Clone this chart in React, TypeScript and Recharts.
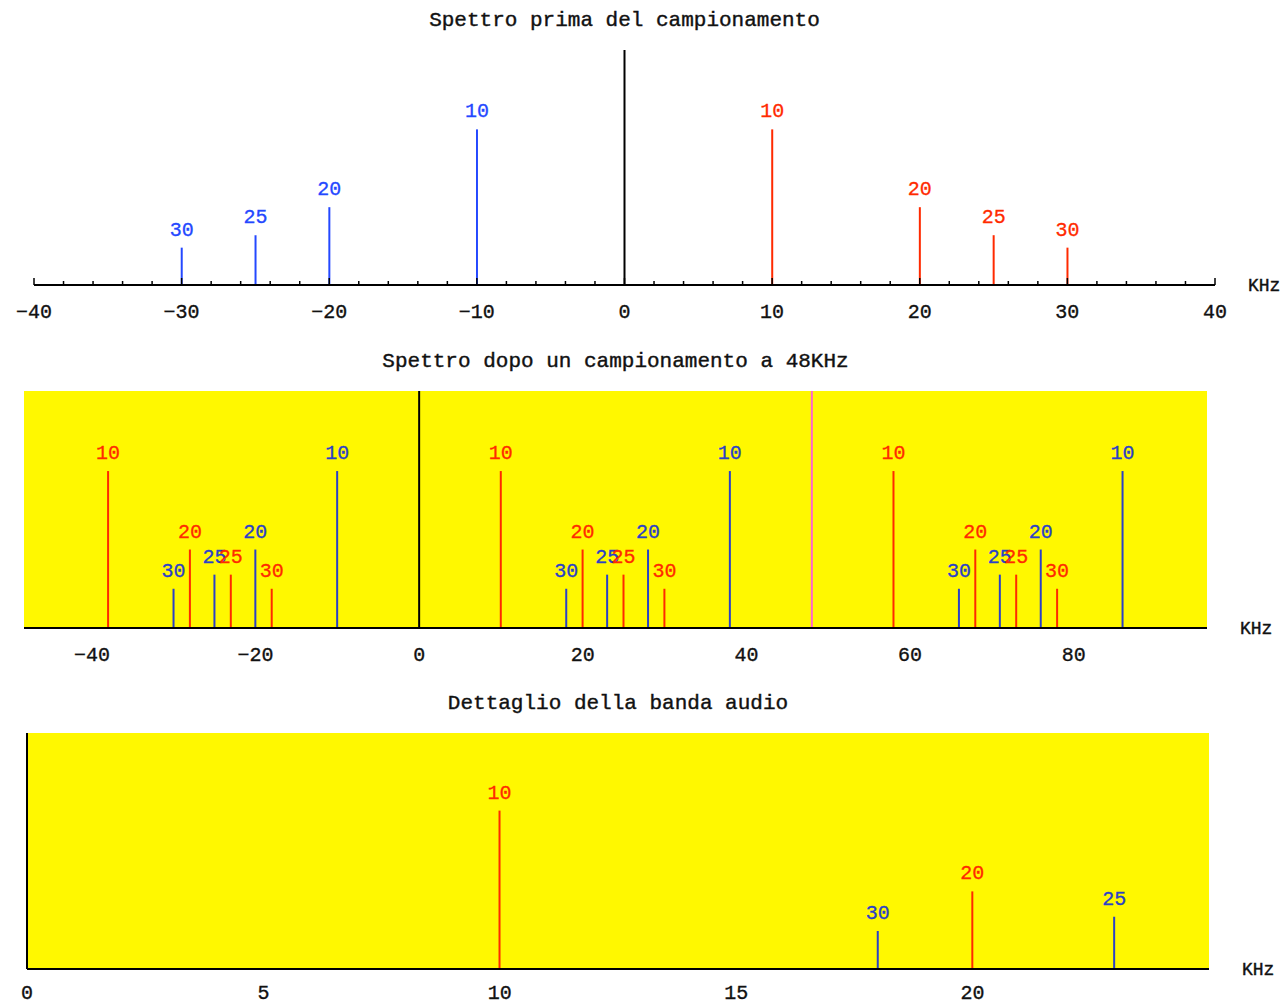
import React from 'react'
import {
  ComposedChart,
  Bar,
  Cell,
  XAxis,
  YAxis,
  LabelList,
  ReferenceLine,
  CartesianGrid,
} from 'recharts'

const FONT = '"Liberation Mono", "Courier New", monospace'
const RED = '#ff2a00'
const BLUE_BRIGHT = '#2448ff'
const BLUE_DARK = '#2a40c8'
const YELLOW = '#fff800'
const MAGENTA = '#ff66cc'

// Spettro prima del campionamento
const beforeFreq = [-30, -25, -20, -10, 10, 20, 25, 30]
const beforeAmp = [0.24, 0.32, 0.5, 1, 1, 0.5, 0.32, 0.24]
const beforeTag = ['30', '25', '20', '10', '10', '20', '25', '30']
const beforeSide = ['b', 'b', 'b', 'b', 'r', 'r', 'r', 'r']
const beforeTicks = [
  -40, -38, -36, -34, -32, -30, -28, -26, -24, -22, -20, -18, -16, -14, -12, -10, -8, -6, -4, -2,
  0, 2, 4, 6, 8, 10, 12, 14, 16, 18, 20, 22, 24, 26, 28, 30, 32, 34, 36, 38, 40,
]

// Spettro dopo un campionamento a 48KHz
const afterFreq = [
  -38, -30, -28, -25, -23, -20, -18, -10,
  10, 18, 20, 23, 25, 28, 30, 38,
  58, 66, 68, 71, 73, 76, 78, 86,
]
const afterAmp = [
  1, 0.25, 0.5, 0.34, 0.34, 0.5, 0.25, 1,
  1, 0.25, 0.5, 0.34, 0.34, 0.5, 0.25, 1,
  1, 0.25, 0.5, 0.34, 0.34, 0.5, 0.25, 1,
]
const afterTag = [
  '10', '30', '20', '25', '25', '20', '30', '10',
  '10', '30', '20', '25', '25', '20', '30', '10',
  '10', '30', '20', '25', '25', '20', '30', '10',
]
const afterSide = [
  'r', 'b', 'r', 'b', 'r', 'b', 'r', 'b',
  'r', 'b', 'r', 'b', 'r', 'b', 'r', 'b',
  'r', 'b', 'r', 'b', 'r', 'b', 'r', 'b',
]
const afterTicks = [-40, -20, 0, 20, 40, 60, 80]
const sampleRate = 48

// Dettaglio della banda audio
const audioFreq = [10, 18, 20, 23]
const audioAmp = [1, 0.24, 0.49, 0.33]
const audioTag = ['10', '30', '20', '25']
const audioSide = ['r', 'b', 'r', 'b']
const audioTicks = [0, 5, 10, 15, 20]

type Stem = { f: number; a: number; tag: string; color: string }

const build = (f: number[], a: number[], t: string[], s: string[], blue: string): Stem[] =>
  f.map((v, i) => ({ f: v, a: a[i], tag: t[i], color: s[i] === 'r' ? RED : blue }))

const fmt = (v: number) => (v < 0 ? `\u2212${-v}` : `${v}`)

function makeTick(minorMarks: boolean, labelDy: number) {
  return function Tick(props: any) {
    const { x, y, payload } = props
    const v = payload.value as number
    const major = v % 10 === 0
    return (
      <g>
        {minorMarks && (
          <line x1={x} x2={x} y1={y} y2={y - (major ? 7 : 4)} stroke="#000" strokeWidth={1.5} />
        )}
        {(!minorMarks || major) && (
          <text
            x={x}
            y={y + labelDy}
            textAnchor="middle"
            fontFamily={FONT}
            fontSize={20}
            fill="#111"
            stroke="#111"
            strokeWidth={0.35}
          >
            {fmt(v)}
          </text>
        )}
      </g>
    )
  }
}

interface PanelProps {
  title: string
  data: Stem[]
  height: number
  margin: { top: number; right: number; left: number; bottom: number }
  axisHeight: number
  labelDy: number
  domain: [number, number]
  ticks: number[]
  minorMarks: boolean
  yMax: number
  bg?: string
  marker?: number
}

function Panel({ title, data, height, margin, axisHeight, labelDy, domain, ticks, minorMarks, yMax, bg, marker }: PanelProps) {
  const width = 1285
  const plotRight = width - margin.right
  const cx = (margin.left + plotRight) / 2
  const axisY = height - margin.bottom - axisHeight
  const Tick = makeTick(minorMarks, labelDy)

  const renderLabel = (p: any) => {
    const d = data[p.index]
    if (!d) return null
    return (
      <text
        x={p.x + p.width / 2}
        y={p.y - 12}
        textAnchor="middle"
        fontFamily={FONT}
        fontSize={20}
        fill={d.color}
        stroke={d.color}
        strokeWidth={0.3}
      >
        {p.value}
      </text>
    )
  }

  return (
    <div style={{ position: 'relative', width, height }}>
      <ComposedChart width={width} height={height} data={data} margin={margin}>
        {bg && <CartesianGrid horizontal={false} vertical={false} fill={bg} stroke="none" />}
        <XAxis
          dataKey="f"
          type="number"
          domain={domain}
          ticks={ticks}
          interval={0}
          allowDataOverflow
          tickLine={false}
          tickSize={0}
          tickMargin={0}
          height={axisHeight}
          axisLine={{ stroke: '#000', strokeWidth: 2 }}
          tick={<Tick />}
        />
        <YAxis type="number" domain={[0, yMax]} hide allowDataOverflow />
        <ReferenceLine x={0} stroke="#000" strokeWidth={2} ifOverflow="visible" />
        {marker !== undefined && <ReferenceLine x={marker} stroke={MAGENTA} strokeWidth={2} />}
        <Bar dataKey="a" barSize={2} isAnimationActive={false}>
          {data.map((d, i) => (
            <Cell key={i} fill={d.color} />
          ))}
          <LabelList dataKey="tag" content={renderLabel} />
        </Bar>
      </ComposedChart>
      <svg
        width={width}
        height={height}
        style={{ position: 'absolute', left: 0, top: 0, pointerEvents: 'none' }}
      >
        <text
          x={cx}
          y={margin.top - 24}
          textAnchor="middle"
          fontFamily={FONT}
          fontSize={21}
          fill="#111"
          stroke="#111"
          strokeWidth={0.4}
        >
          {title}
        </text>
        <text
          x={plotRight + 33}
          y={axisY + 6}
          fontFamily={FONT}
          fontSize={18}
          fill="#111"
          stroke="#111"
          strokeWidth={0.4}
        >
          KHz
        </text>
      </svg>
    </div>
  )
}

export default function App() {
  const before = build(beforeFreq, beforeAmp, beforeTag, beforeSide, BLUE_BRIGHT)
  const after = build(afterFreq, afterAmp, afterTag, afterSide, BLUE_DARK)
  const audio = build(audioFreq, audioAmp, audioTag, audioSide, BLUE_DARK)

  return (
    <div style={{ position: 'absolute', left: 0, top: 0, width: 1285, height: 1004, background: '#fff' }}>
      <Panel
        title="Spettro prima del campionamento"
        data={before}
        height={335}
        margin={{ top: 50, right: 70, left: 34, bottom: 0 }}
        axisHeight={50}
        labelDy={33}
        domain={[-40, 40]}
        ticks={beforeTicks}
        minorMarks
        yMax={1.51}
      />
      <Panel
        title="Spettro dopo un campionamento a 48KHz"
        data={after}
        height={342}
        margin={{ top: 56, right: 78, left: 24, bottom: 0 }}
        axisHeight={49}
        labelDy={33}
        domain={[-48.3, 96.3]}
        ticks={afterTicks}
        minorMarks={false}
        yMax={1.51}
        bg={YELLOW}
        marker={sampleRate}
      />
      <Panel
        title="Dettaglio della banda audio"
        data={audio}
        height={327}
        margin={{ top: 56, right: 76, left: 27, bottom: 0 }}
        axisHeight={35}
        labelDy={30}
        domain={[0, 25]}
        ticks={audioTicks}
        minorMarks={false}
        yMax={1.49}
        bg={YELLOW}
      />
    </div>
  )
}
